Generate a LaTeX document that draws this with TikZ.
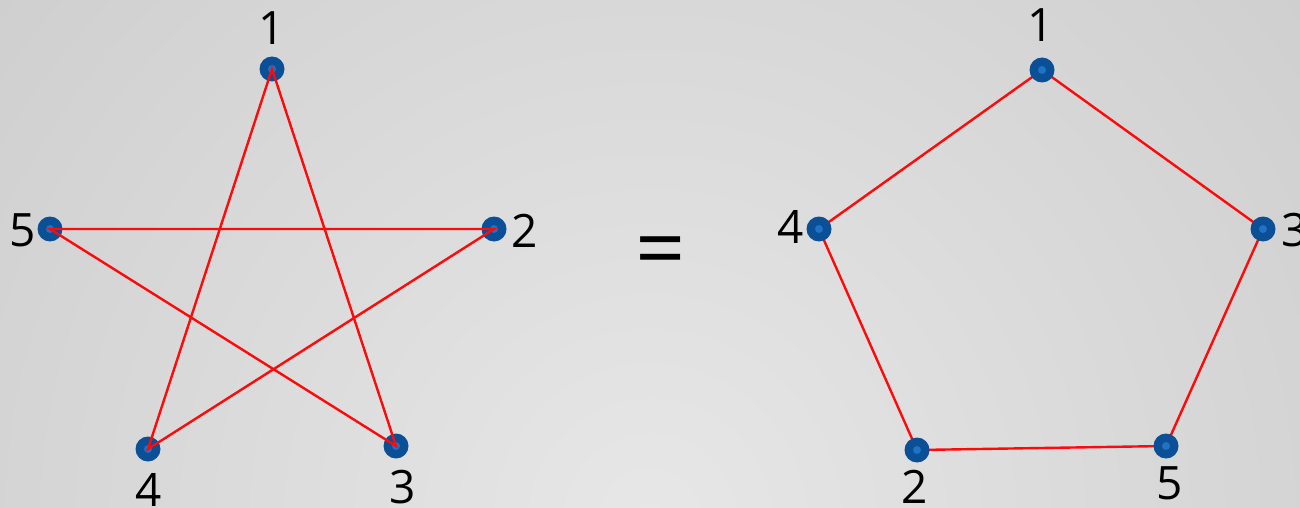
\documentclass[tikz,border=0pt]{standalone}
\usepackage{fontspec}
\setmainfont{Open Sans}
\definecolor{bgin}{HTML}{E7E7E7}
\definecolor{bgout}{HTML}{BCBCBC}
\definecolor{dotblue}{HTML}{0B4F96}
\definecolor{dotinner}{HTML}{1F72C6}
\definecolor{edgered}{HTML}{FF0A0A}
\tikzset{
  dot/.style={circle, fill=dotblue, minimum size=25pt, inner sep=0pt,
    path picture={\fill[dotinner] (path picture bounding box.center) circle (4pt);}},
  edge/.style={draw=edgered, line width=2.4pt},
  lbl/.style={anchor=base, inner sep=0pt, font=\fontsize{46}{50}\selectfont},
  eqsign/.style={inner sep=0pt, font=\fontsize{88}{90}\selectfont}
}
\begin{document}
\begin{tikzpicture}[x=1pt,y=-1pt]
\useasboundingbox (0,0) rectangle (1300,508);
\begin{scope}
  \clip (0,0) rectangle (1300,508);
  \shade[inner color=bgin, outer color=bgout] (650,520) circle (1500pt);
\end{scope}
% left star
\coordinate (l1) at (272,69);
\coordinate (l2) at (494,229);
\coordinate (l3) at (396,446);
\coordinate (l4) at (148,449);
\coordinate (l5) at (50,229);
\node[dot] (l1d) at (l1) {};
\node[dot] (l2d) at (l2) {};
\node[dot] (l3d) at (l3) {};
\node[dot] (l4d) at (l4) {};
\node[dot] (l5d) at (l5) {};
\draw[edge] (l1) -- (l3) -- (l5) -- (l2) -- (l4) -- cycle;
\node[lbl] (l1t) at (272,45) {1};
\node[lbl] (l2t) at (525,247) {2};
\node[lbl] (l3t) at (403,503) {3};
\node[lbl] (l4t) at (149,506) {4};
\node[lbl] (l5t) at (23,246) {5};
% equals
\node[eqsign] (eq) at (661,258) {=};
% right pentagon
\coordinate (r1) at (1042,70);
\coordinate (r3) at (1263,229);
\coordinate (r5) at (1166,446);
\coordinate (r2) at (917,450);
\coordinate (r4) at (819,229);
\draw[edge] (r1) -- (r3) -- (r5) -- (r2) -- (r4) -- cycle;
\node[dot] (r1d) at (r1) {};
\node[dot] (r2d) at (r2) {};
\node[dot] (r3d) at (r3) {};
\node[dot] (r4d) at (r4) {};
\node[dot] (r5d) at (r5) {};
\node[lbl] (r1t) at (1041,42) {1};
\node[lbl] (r2t) at (915,503) {2};
\node[lbl] (r3t) at (1295,246) {3};
\node[lbl] (r4t) at (791,243) {4};
\node[lbl] (r5t) at (1170,499) {5};
\end{tikzpicture}
\end{document}
